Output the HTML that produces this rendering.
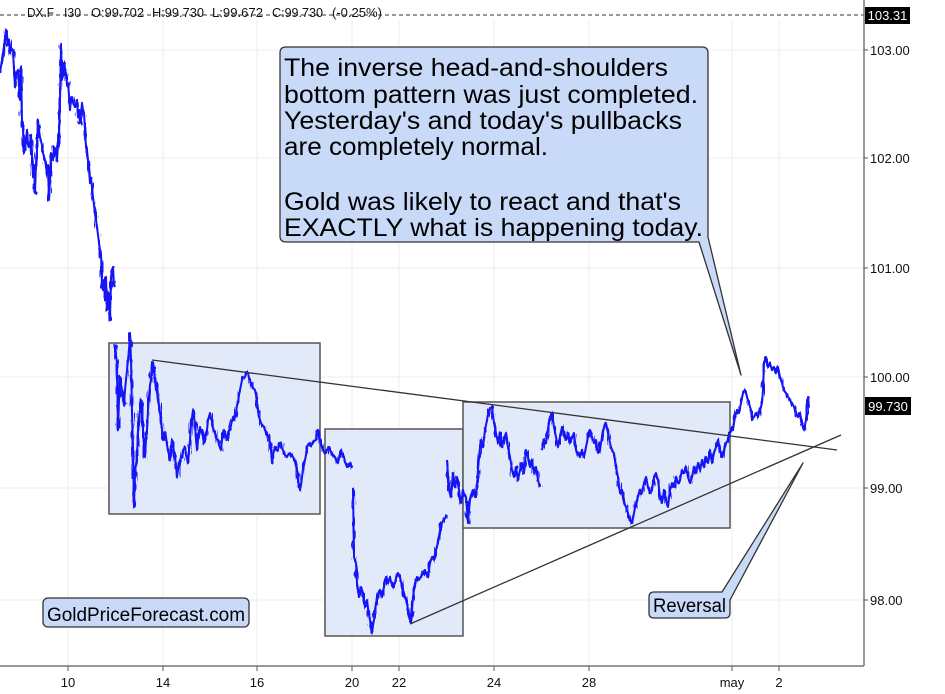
<!DOCTYPE html>
<html><head><meta charset="utf-8"><style>
html,body{margin:0;padding:0;background:#fff;}
svg{display:block;}
text{font-family:"Liberation Sans",Arial,sans-serif;}
</style></head><body>
<svg width="945" height="694" viewBox="0 0 945 694" xmlns="http://www.w3.org/2000/svg" xmlns:xlink="http://www.w3.org/1999/xlink">
<defs>
<filter id="jit" filterUnits="userSpaceOnUse" x="-10" y="0" width="840" height="680">
<feTurbulence type="fractalNoise" baseFrequency="0.7 0.1" numOctaves="1" seed="4" result="n"/>
<feDisplacementMap in="SourceGraphic" in2="n" scale="8" xChannelSelector="G" yChannelSelector="R"/>
</filter>
</defs>
<rect width="945" height="694" fill="#fff"/>
<!-- grid -->
<g stroke="#ececec" stroke-width="1">
<line x1="0" y1="50" x2="864" y2="50"/>
<line x1="0" y1="158" x2="864" y2="158"/>
<line x1="0" y1="268" x2="864" y2="268"/>
<line x1="0" y1="377" x2="864" y2="377"/>
<line x1="0" y1="488" x2="864" y2="488"/>
<line x1="0" y1="600" x2="864" y2="600"/>
<line x1="68" y1="20" x2="68" y2="666"/>
<line x1="163" y1="20" x2="163" y2="666"/>
<line x1="257" y1="20" x2="257" y2="666"/>
<line x1="352" y1="20" x2="352" y2="666"/>
<line x1="399" y1="20" x2="399" y2="666"/>
<line x1="494" y1="20" x2="494" y2="666"/>
<line x1="589" y1="20" x2="589" y2="666"/>
<line x1="732" y1="20" x2="732" y2="666"/>
<line x1="779" y1="20" x2="779" y2="666"/>
</g>
<!-- top dashed line -->
<line x1="0" y1="15" x2="864" y2="15" stroke="#333" stroke-width="1" stroke-dasharray="4,3"/>
<g font-size="12.5" fill="#111">
<text x="27" y="17" textLength="27" lengthAdjust="spacingAndGlyphs">DX.F</text>
<text x="64" y="17" textLength="17" lengthAdjust="spacingAndGlyphs">I30</text>
<text x="91" y="17" textLength="53" lengthAdjust="spacingAndGlyphs">O:99.702</text>
<text x="152" y="17" textLength="52" lengthAdjust="spacingAndGlyphs">H:99.730</text>
<text x="212" y="17" textLength="51" lengthAdjust="spacingAndGlyphs">L:99.672</text>
<text x="272" y="17" textLength="51" lengthAdjust="spacingAndGlyphs">C:99.730</text>
<text x="332" y="17" textLength="50" lengthAdjust="spacingAndGlyphs">(-0.25%)</text>
</g>
<!-- boxes -->
<g fill="#e2eaf9" stroke="#555" stroke-width="1.5">
<rect x="109" y="343" width="211" height="171"/>
<rect x="325" y="429" width="138" height="207"/>
<rect x="463" y="402" width="267" height="126"/>
</g>
<!-- price series -->
<g id="series" fill="none" stroke="#1414f5" stroke-width="2" stroke-linejoin="round">
<polyline points="0,73 2,60 4,50 5,38 6,30 7,35 8,45 9,40 10,53 11,48 13,50 14,70 15,87 16,75 18,70 19,85 20,100 21,67 22,120 23,130 24,153 26,140 27,130 28,145 30,147 31,135 33,177 34,165 35,193 36,163 37,150 38,120 39,130 40,137 42,145 43,153 45,160 47,173 48,165 49,200 50,180 51,153 53,160 54,147 56,150 57,160 58,145 59,137 60,100 61,45 62,80 63,70 64,63 65,75 66,73 67,85 68,83 69,95 70,110 71,100 72,97 74,105 75,107 77,100 78,117 79,110 80,123 81,115 82,103 83,110 84,113 85,130 86,147 87,150 88,160 89,170 90,183 91,178 93,197 94,205 95,213 96,220 97,227 98,235 99,243 100,250 101,253 102,287 103,290 104,280 105,300 106,277 107,310 108,293 109,300 110,320 111,277 112,270 113,267 114,285 115,287"/>
<polyline points="115,345 116,355 117,363 118,430 119,400 120,377 121,385 122,390 123,400 124,405 125,390 126,380 127,370 128,360 129,350 130,333 131,360 132,413 133,447 134,507 135,470 136,465 137,457 138,430 139,417 140,410 141,400 142,415 143,430 144,445 145,457 146,440 147,430 148,410 149,397 150,385 151,380 152,362 153,372 154,367 155,380 156,390 157,385 158,397 159,405 160,413 161,420 162,430 163,440 164,440 165,432 166,437 167,445 168,450 169,455 170,460 171,450 172,440 173,445 174,452 175,457 176,465 177,477 178,470 179,463 180,460 182,457 183,450 185,447 186,455 188,463 189,450 190,440 191,425 193,410 194,418 195,423 196,440 197,450 198,440 200,427 201,432 202,430 203,438 204,443 205,435 207,430 208,420 210,413 211,418 212,420 213,428 215,433 216,438 218,440 219,445 221,450 222,440 224,430 225,435 227,440 228,432 230,430 231,425 233,417 234,420 236,413 237,405 238,403 239,395 240,390 241,385 242,380 243,378 245,377 246,372 248,373 249,378 250,380 251,385 252,383 253,388 255,390 256,395 257,403 258,410 259,417 260,420 261,423 262,425 264,427 265,430 267,433 268,437 270,443 271,450 272,463 273,455 275,447 276,450 278,450 279,445 281,443 282,448 284,453 285,455 287,457 288,455 290,453 291,455 293,457 295,462 297,470 298,480 300,490 301,485 302,477 303,470 305,460 306,455 307,447 308,445 310,443 311,446 313,443 314,441 316,440 317,435 318,430 319,433 320,440 321,445 323,450 324,452 326,453 327,450 329,447 330,450 332,453 333,455 335,457 336,460 338,463 339,458 341,450 342,453 344,457 345,462 347,467 348,465 350,463 351,466 352,468"/>
<polyline points="353,488 354,557 355,560 356,563 357,583 358,590 359,597 360,592 361,587 362,590 363,593 364,600 365,607 366,603 367,600 368,608 369,615 370,620 371,628 372,633 373,625 374,620 375,610 376,603 377,600 378,597 379,593 380,590 381,594 382,597 383,592 384,587 385,582 386,577 387,580 388,583 389,580 390,577 391,582 393,587 394,585 395,583 396,578 398,573 399,575 400,577 401,582 403,590 404,593 405,597 406,600 407,603 408,610 409,617 410,620 411,623 412,610 413,597 414,590 415,583 416,580 417,577 418,578 419,580 420,578 421,577 422,575 423,573 424,571 425,570 426,573 428,577 429,570 430,563 431,560 432,557 433,558 434,560 435,555 436,550 437,546 438,543 439,537 440,530 441,527 442,523 443,521 444,520 445,518 446,517 447,515"/>
<polyline points="447,460 448,475 449,490 450,494 451,497 452,485 453,473 454,480 455,487 456,482 457,477 458,484 459,490 460,497 461,503 462,498 463,490 464,494 466,497 467,510 468,523 469,510 470,500 471,495 473,490 474,493 475,497 476,492 477,487 478,470 479,457 480,448 481,440 482,444 483,447 484,438 485,430 486,425 487,420 488,415 489,410 490,408 492,407 493,415 494,423 495,428 496,433 497,438 498,443 499,438 500,433 501,440 502,447 503,443 504,440 505,436 506,433 507,440 508,447 509,452 510,457 511,463 512,470 513,474 514,477 515,472 516,467 517,474 518,480 519,475 520,470 521,466 522,463 523,468 524,473 525,462 526,450 527,453 528,457 529,462 530,467 531,463 532,460 533,467 534,473 535,470 536,467 537,474 538,480 539,484 540,487"/>
<polyline points="542,450 543,445 544,440 545,442 546,443 547,437 548,430 549,423 550,417 551,415 552,413 553,420 554,427 555,432 556,437 557,442 558,447 559,442 560,437 561,432 562,427 563,430 564,433 565,437 566,440 567,437 568,433 569,438 570,443 571,440 572,437 573,435 574,433 575,442 576,450 577,452 578,453 579,455 580,457 581,453 582,450 583,454 584,457 585,452 586,447 587,442 588,437 589,433 590,430 591,433 592,437 593,440 594,443 595,442 596,440 597,447 598,453 599,452 600,450 601,443 602,437 603,432 604,427 605,425 606,423 607,428 608,433 609,438 610,443 611,447 612,450 613,452 614,453 615,460 616,467 617,472 618,477 619,485 620,493 621,492 622,490 623,497 624,503 625,505 626,507 627,510 628,513 629,517 630,520 631,522 632,523 633,518 634,513 635,508 636,503 637,500 638,497 639,493 640,490 641,492 642,493 643,488 644,483 645,480 646,477 647,482 648,487 649,490 650,493 651,492 652,490 653,483 654,477 655,475 656,473 657,477 658,480 659,488 660,497 661,500 662,503 663,497 664,490 665,495 666,500 667,503 668,507 669,498 670,490 671,487 672,483 673,485 674,487 675,482 676,477 677,480 678,483 679,482 680,480 681,475 682,470 683,472 684,473 685,470 686,467 687,472 688,477 689,480 690,483 691,480 692,477 693,472 694,467 695,470 696,473 697,468 698,463 699,467 700,470 701,465 702,460 703,463 704,467 705,462 706,457 707,460 708,463 709,457 710,450 711,457 712,463 713,458 714,453 715,450 716,447 717,443 718,440 719,445 720,450 721,453 722,457 723,453 724,450 725,447 726,443 727,442 728,440 729,437 730,433 731,430 732,427 733,430 734,423 735,417 736,413 737,410 738,412 739,413 740,408 741,403 742,398 743,393 744,391 745,390 746,393 747,397 748,400 749,403 750,407 751,410 752,420 753,418 754,417 755,415 756,413 757,415 758,417 759,413 760,410 761,407 762,403 763,390 764,363 765,360 766,357 767,362 768,367 769,365 770,363 771,367 772,370 773,368 774,367 775,370 776,373 777,370 778,367 779,372 780,377 781,380 782,383 783,387 784,390 785,392 786,393 787,395 788,397 789,398 790,400 791,402 792,403 793,405 794,407 795,410 796,413 797,415 798,417 799,415 800,413 801,418 802,423 803,427 804,430 805,425 806,420 807,407 808,397 809,407"/>
</g>
<use xlink:href="#series" href="#series" filter="url(#jit)"/>
<!-- trend lines -->
<g stroke="#333" stroke-width="1.3">
<line x1="152" y1="360" x2="837" y2="450"/>
<line x1="410" y1="624" x2="841" y2="435"/>
</g>
<!-- axes -->
<line x1="0" y1="666" x2="864" y2="666" stroke="#777" stroke-width="1.5"/>
<line x1="864" y1="0" x2="864" y2="666" stroke="#777" stroke-width="1.5"/>
<g stroke="#555" stroke-width="1">
<line x1="68" y1="666" x2="68" y2="671"/>
<line x1="163" y1="666" x2="163" y2="671"/>
<line x1="257" y1="666" x2="257" y2="671"/>
<line x1="352" y1="666" x2="352" y2="671"/>
<line x1="399" y1="666" x2="399" y2="671"/>
<line x1="494" y1="666" x2="494" y2="671"/>
<line x1="589" y1="666" x2="589" y2="671"/>
<line x1="732" y1="666" x2="732" y2="671"/>
<line x1="779" y1="666" x2="779" y2="671"/>
<line x1="864" y1="50" x2="868" y2="50"/>
<line x1="864" y1="158" x2="868" y2="158"/>
<line x1="864" y1="268" x2="868" y2="268"/>
<line x1="864" y1="377" x2="868" y2="377"/>
<line x1="864" y1="488" x2="868" y2="488"/>
<line x1="864" y1="600" x2="868" y2="600"/>
</g>
<g font-size="13" fill="#111" text-anchor="middle">
<text x="68" y="687">10</text>
<text x="163" y="687">14</text>
<text x="257" y="687">16</text>
<text x="352" y="687">20</text>
<text x="399" y="687">22</text>
<text x="494" y="687">24</text>
<text x="589" y="687">28</text>
<text x="732" y="687">may</text>
<text x="779" y="687">2</text>
</g>
<g font-size="13" fill="#111">
<text x="870" y="55">103.00</text>
<text x="870" y="163">102.00</text>
<text x="870" y="273">101.00</text>
<text x="870" y="382">100.00</text>
<text x="870" y="493">99.00</text>
<text x="870" y="605">98.00</text>
</g>
<rect x="865" y="7" width="45" height="17" fill="#000"/>
<text x="887.5" y="20" font-size="13" fill="#fff" text-anchor="middle">103.31</text>
<rect x="865" y="397" width="46" height="18" fill="#000"/>
<text x="888" y="411" font-size="13" fill="#fff" text-anchor="middle">99.730</text>
<!-- main callout -->
<path d="M286,47 H702 Q708,47 708,53 V237 L741,375 L699,242 H286 Q280,242 280,236 V53 Q280,47 286,47 Z" fill="#c8daf8" stroke="#333" stroke-width="1.3" stroke-linejoin="round"/>
<g font-size="25" fill="#000">
<text x="284" y="76" textLength="384" lengthAdjust="spacingAndGlyphs">The inverse head-and-shoulders</text>
<text x="284" y="103" textLength="414" lengthAdjust="spacingAndGlyphs">bottom pattern was just completed.</text>
<text x="284" y="129" textLength="398" lengthAdjust="spacingAndGlyphs">Yesterday's and today's pullbacks</text>
<text x="284" y="155" textLength="264" lengthAdjust="spacingAndGlyphs">are completely normal.</text>
<text x="284" y="210" textLength="397" lengthAdjust="spacingAndGlyphs">Gold was likely to react and that's</text>
<text x="284" y="236" textLength="419" lengthAdjust="spacingAndGlyphs">EXACTLY what is happening today.</text>
</g>
<!-- Reversal callout -->
<path d="M654,592 H722 L803,463 L730,600 V613 Q730,618 725,618 H654 Q649,618 649,613 V597 Q649,592 654,592 Z" fill="#c8daf8" stroke="#333" stroke-width="1.3" stroke-linejoin="round"/>
<text x="653" y="612" font-size="19" fill="#000" textLength="73" lengthAdjust="spacingAndGlyphs">Reversal</text>
<!-- brand -->
<rect x="43" y="598" width="206" height="29" rx="5" ry="5" fill="#c8daf8" stroke="#333" stroke-width="1.3"/>
<text x="47" y="621" font-size="19" fill="#000" textLength="198" lengthAdjust="spacingAndGlyphs">GoldPriceForecast.com</text>
</svg>
</body></html>
